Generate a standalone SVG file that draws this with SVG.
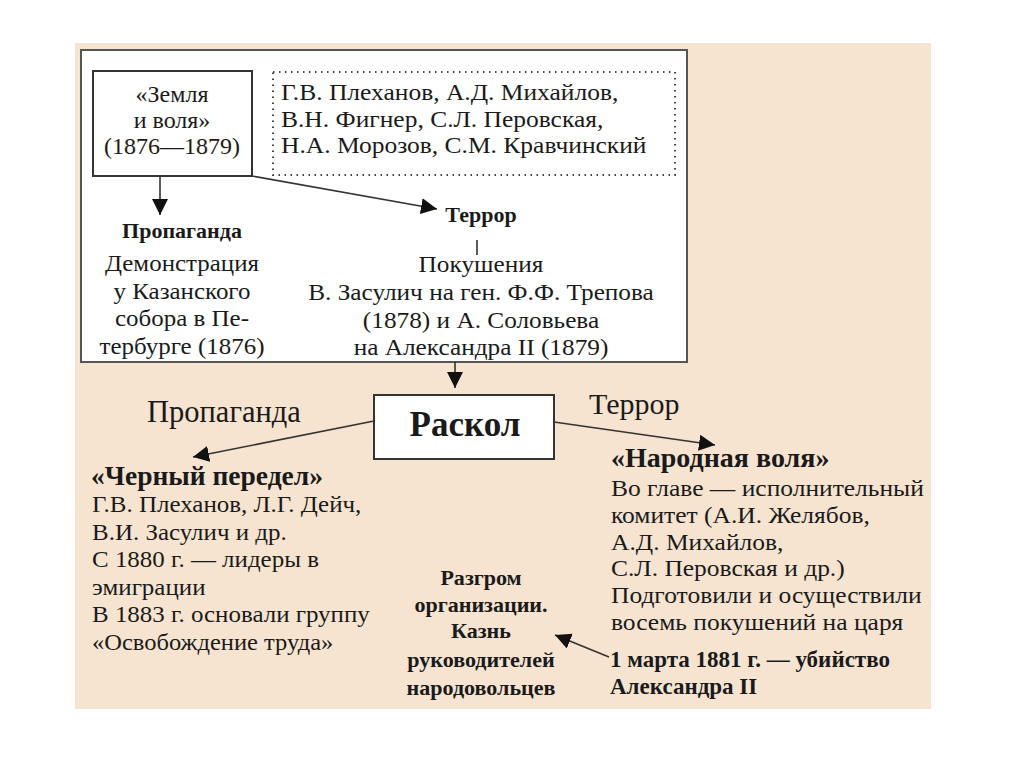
<svg xmlns="http://www.w3.org/2000/svg" width="1024" height="767" viewBox="0 0 1024 767">
<defs>
<style>
text{font-family:"Liberation Serif","DejaVu Serif",serif;fill:#1a1a1a}
.b{font-weight:bold}
.c{text-anchor:middle}
.t{font-size:22.5px}
.box{fill:#fff;stroke:#333;stroke-width:2}
.ln{stroke:#333;stroke-width:1.6;fill:none}
</style>
<marker id="ah" viewBox="0 0 10 10" refX="10" refY="5" markerWidth="16" markerHeight="16" markerUnits="userSpaceOnUse" orient="auto">
<path d="M0,0 L10,5 L0,10 z" fill="#111"/>
</marker>
</defs>
<rect width="1024" height="767" fill="#fff"/>
<rect x="75" y="43" width="856" height="666" fill="#f6e4d0"/>
<g id="top-panel">
<rect x="81" y="50" width="606" height="312" fill="#fff" stroke="#555" stroke-width="2"/>
</g>
<g id="zemlya">
<rect x="93" y="71" width="159" height="105" class="box"/>
<text class="c t" transform="translate(172 102) scale(1.067 1)">«Земля</text>
<text class="c t" transform="translate(172 128) scale(1.067 1)">и воля»</text>
<text class="c t" transform="translate(172 154) scale(1.067 1)">(1876—1879)</text>
</g>
<g id="members">
<rect x="273" y="72" width="402" height="103" fill="none" stroke="#444" stroke-width="2" stroke-dasharray="1.5 4.5"/>
<text class="t" transform="translate(281 100) scale(1.133 1)">Г.В. Плеханов, А.Д. Михайлов,</text>
<text class="t" transform="translate(281 127) scale(1.133 1)">В.Н. Фигнер, С.Л. Перовская,</text>
<text class="t" transform="translate(281 153) scale(1.133 1)">Н.А. Морозов, С.М. Кравчинский</text>
</g>
<g id="propaganda1">
<text class="c b" x="182" y="238" font-size="22">Пропаганда</text>
<text class="c t" transform="translate(182 271) scale(1.11 1)">Демонстрация</text>
<text class="c t" transform="translate(182 299) scale(1.11 1)">у Казанского</text>
<text class="c t" transform="translate(182 326) scale(1.11 1)">собора в Пе-</text>
<text class="c t" transform="translate(182 354) scale(1.11 1)">тербурге (1876)</text>
</g>
<g id="terror1">
<text class="c b" x="481" y="222" font-size="22">Террор</text>
<text class="c t" transform="translate(481 272) scale(1.124 1)">Покушения</text>
<text class="c t" transform="translate(481 300) scale(1.124 1)">В. Засулич на ген. Ф.Ф. Трепова</text>
<text class="c t" transform="translate(481 328) scale(1.124 1)">(1878) и А. Соловьева</text>
<text class="c t" transform="translate(481 355) scale(1.124 1)">на Александра II (1879)</text>
</g>
<g id="raskol">
<rect x="374" y="395" width="180" height="64" class="box"/>
<text class="c b" x="465" y="436" font-size="35">Раскол</text>
</g>
<g id="labels">
<text x="147" y="422" font-size="30.5">Пропаганда</text>
<text x="589" y="414" font-size="30">Террор</text>
</g>
<g id="cherny">
<text class="b" x="91" y="485" font-size="27.5">«Черный передел»</text>
<text class="t" transform="translate(92 512) scale(1.11 1)">Г.В. Плеханов, Л.Г. Дейч,</text>
<text class="t" transform="translate(92 540) scale(1.11 1)">В.И. Засулич и др.</text>
<text class="t" transform="translate(92 567) scale(1.11 1)">С 1880 г. — лидеры в</text>
<text class="t" transform="translate(92 595) scale(1.11 1)">эмиграции</text>
<text class="t" transform="translate(92 622) scale(1.11 1)">В 1883 г. основали группу</text>
<text class="t" transform="translate(92 650) scale(1.09 1)">«Освобождение труда»</text>
</g>
<g id="narodnaya">
<text class="b" x="611" y="467" font-size="28">«Народная воля»</text>
<text class="t" transform="translate(611 496) scale(1.133 1)">Во главе — исполнительный</text>
<text class="t" transform="translate(611 523) scale(1.133 1)">комитет (А.И. Желябов,</text>
<text class="t" transform="translate(611 550) scale(1.133 1)">А.Д. Михайлов,</text>
<text class="t" transform="translate(611 576) scale(1.133 1)">С.Л. Перовская и др.)</text>
<text class="t" transform="translate(611 603) scale(1.133 1)">Подготовили и осуществили</text>
<text class="t" transform="translate(611 630) scale(1.133 1)">восемь покушений на царя</text>
</g>
<g id="murder">
<text class="b" x="610" y="667" font-size="23">1 марта 1881 г. — убийство</text>
<text class="b" x="610" y="694" font-size="23">Александра II</text>
</g>
<g id="razgrom">
<text class="c b" font-size="21" transform="translate(481 585) scale(1.05 1)">Разгром</text>
<text class="c b" font-size="21" transform="translate(481 612) scale(1.05 1)">организации.</text>
<text class="c b" font-size="21" transform="translate(481 638) scale(1.05 1)">Казнь</text>
<text class="c b" font-size="21" transform="translate(481 667) scale(1.05 1)">руководителей</text>
<text class="c b" font-size="21" transform="translate(481 695) scale(1.05 1)">народовольцев</text>
</g>
<g id="connectors">
<line class="ln" x1="160" y1="176" x2="160" y2="215" marker-end="url(#ah)"/>
<line class="ln" x1="252" y1="176" x2="437" y2="209" marker-end="url(#ah)"/>
<line class="ln" x1="477" y1="240" x2="477" y2="255"/>
<line class="ln" x1="455" y1="362" x2="455" y2="388" marker-end="url(#ah)"/>
<line class="ln" x1="374" y1="421" x2="193" y2="457" marker-end="url(#ah)"/>
<line class="ln" x1="554" y1="422" x2="715" y2="445" marker-end="url(#ah)"/>
<line class="ln" x1="609" y1="657" x2="555" y2="635" marker-end="url(#ah)"/>
</g>
</svg>
